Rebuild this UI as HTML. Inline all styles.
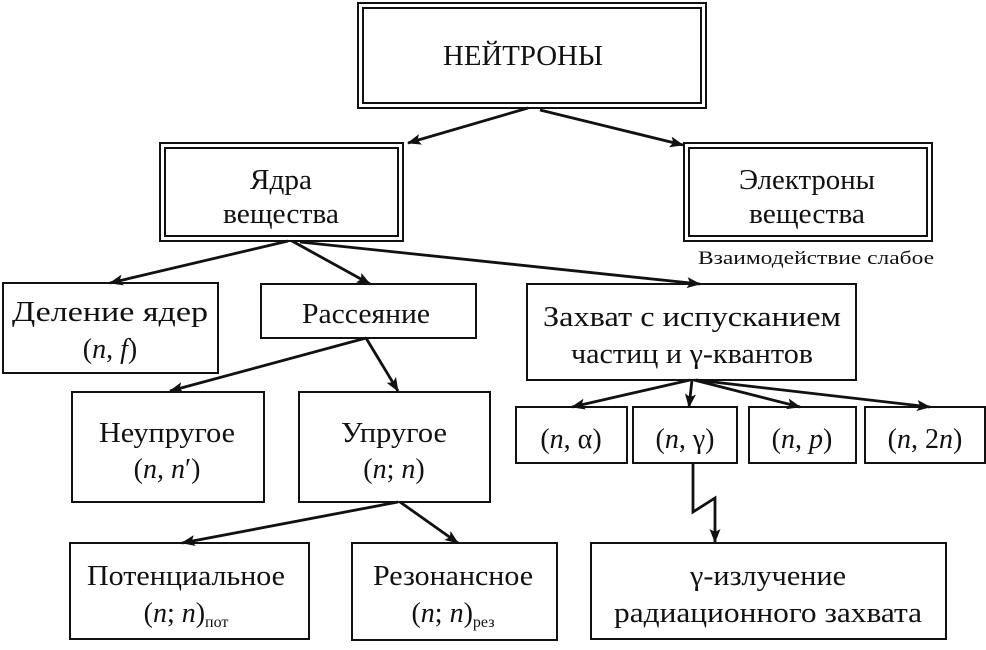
<!DOCTYPE html>
<html><head><meta charset="utf-8"><style>
html,body{margin:0;padding:0;background:#fff;}
svg{display:block;}
text{font-family:"Liberation Serif",serif;font-size:28px;fill:#111;}
.i{font-style:italic;}
</style></head><body>
<svg width="986" height="650" viewBox="0 0 986 650">
<defs><marker id="a" markerWidth="14" markerHeight="11" refX="13" refY="5.5" orient="auto" markerUnits="userSpaceOnUse"><path d="M0,0 L14,5.5 L0,11 L3,5.5 Z" fill="#111"/></marker></defs>
<g fill="none" stroke="#111" stroke-width="2">
<rect x="358" y="3" width="348" height="105"/><rect x="363" y="8" width="338" height="95"/>
<rect x="160" y="143" width="243" height="98"/><rect x="165" y="148" width="233" height="88"/>
<rect x="684" y="143" width="248" height="98"/><rect x="689" y="148" width="238" height="88"/>
<rect x="3" y="283" width="215" height="90"/>
<rect x="261" y="284" width="215" height="54"/>
<rect x="527" y="284" width="329" height="96"/>
<rect x="72" y="392" width="192" height="110"/>
<rect x="299" y="392" width="191" height="110"/>
<rect x="516" y="407" width="111" height="56"/>
<rect x="633" y="407" width="104" height="56"/>
<rect x="749" y="407" width="107" height="56"/>
<rect x="865" y="407" width="120" height="56"/>
<rect x="70" y="543" width="239" height="96"/>
<rect x="352" y="543" width="205" height="97"/>
<rect x="591" y="543" width="355" height="96"/>
</g>
<g stroke="#111" stroke-width="2.8" fill="none" marker-end="url(#a)">
<line x1="528" y1="108" x2="408" y2="143"/>
<line x1="540" y1="110" x2="683" y2="145"/>
<line x1="288" y1="241" x2="110" y2="283"/>
<line x1="292" y1="241" x2="370" y2="284"/>
<line x1="300" y1="242" x2="700" y2="284"/>
<line x1="366" y1="338" x2="170" y2="391"/>
<line x1="366" y1="338" x2="398" y2="391"/>
<line x1="690" y1="380" x2="572" y2="407"/>
<line x1="692" y1="380" x2="689" y2="407"/>
<line x1="694" y1="380" x2="800" y2="407"/>
<line x1="696" y1="380" x2="930" y2="407"/>
<line x1="398" y1="502" x2="182" y2="543"/>
<line x1="400" y1="502" x2="458" y2="543"/>
<polyline points="693,463 693,512 715,498 715,542"/>
</g>
<text x="523" y="65" text-anchor="middle" textLength="160" lengthAdjust="spacingAndGlyphs">НЕЙТРОНЫ</text>
<text x="281" y="189" text-anchor="middle" textLength="62" lengthAdjust="spacingAndGlyphs">Ядра</text>
<text x="281" y="223" text-anchor="middle" textLength="116" lengthAdjust="spacingAndGlyphs">вещества</text>
<text x="807" y="189" text-anchor="middle" textLength="136" lengthAdjust="spacingAndGlyphs">Электроны</text>
<text x="807" y="223" text-anchor="middle" textLength="116" lengthAdjust="spacingAndGlyphs">вещества</text>
<text x="816" y="264" text-anchor="middle" style="font-size:19px" textLength="236" lengthAdjust="spacingAndGlyphs">Взаимодействие слабое</text>
<text x="110" y="321" text-anchor="middle" textLength="196" lengthAdjust="spacingAndGlyphs">Деление ядер</text>
<text x="110" y="358" text-anchor="middle">(<tspan class="i">n</tspan>, <tspan class="i">f</tspan>)</text>
<text x="366" y="323" text-anchor="middle" textLength="128" lengthAdjust="spacingAndGlyphs">Рассеяние</text>
<text x="692" y="326" text-anchor="middle" textLength="298" lengthAdjust="spacingAndGlyphs">Захват с испусканием</text>
<text x="692" y="363" text-anchor="middle" textLength="242" lengthAdjust="spacingAndGlyphs">частиц и γ-квантов</text>
<text x="167" y="442" text-anchor="middle" textLength="136" lengthAdjust="spacingAndGlyphs">Неупругое</text>
<text x="167" y="478" text-anchor="middle">(<tspan class="i">n</tspan>, <tspan class="i">n</tspan>′)</text>
<text x="394" y="442" text-anchor="middle" textLength="106" lengthAdjust="spacingAndGlyphs">Упругое</text>
<text x="394" y="478" text-anchor="middle">(<tspan class="i">n</tspan>; <tspan class="i">n</tspan>)</text>
<text x="571" y="448" text-anchor="middle">(<tspan class="i">n</tspan>, α)</text>
<text x="685" y="448" text-anchor="middle">(<tspan class="i">n</tspan>, γ)</text>
<text x="802" y="448" text-anchor="middle">(<tspan class="i">n</tspan>, <tspan class="i">p</tspan>)</text>
<text x="925" y="448" text-anchor="middle">(<tspan class="i">n</tspan>, 2<tspan class="i">n</tspan>)</text>
<text x="186" y="585" text-anchor="middle" textLength="198" lengthAdjust="spacingAndGlyphs">Потенциальное</text>
<text x="186" y="622" text-anchor="middle">(<tspan class="i">n</tspan>; <tspan class="i">n</tspan>)<tspan style="font-size:16px" dy="5">пот</tspan></text>
<text x="453" y="585" text-anchor="middle" textLength="160" lengthAdjust="spacingAndGlyphs">Резонансное</text>
<text x="453" y="622" text-anchor="middle">(<tspan class="i">n</tspan>; <tspan class="i">n</tspan>)<tspan style="font-size:16px" dy="5">рез</tspan></text>
<text x="768" y="585" text-anchor="middle" textLength="156" lengthAdjust="spacingAndGlyphs">γ-излучение</text>
<text x="768" y="622" text-anchor="middle" textLength="308" lengthAdjust="spacingAndGlyphs">радиационного захвата</text>
</svg>
</body></html>
